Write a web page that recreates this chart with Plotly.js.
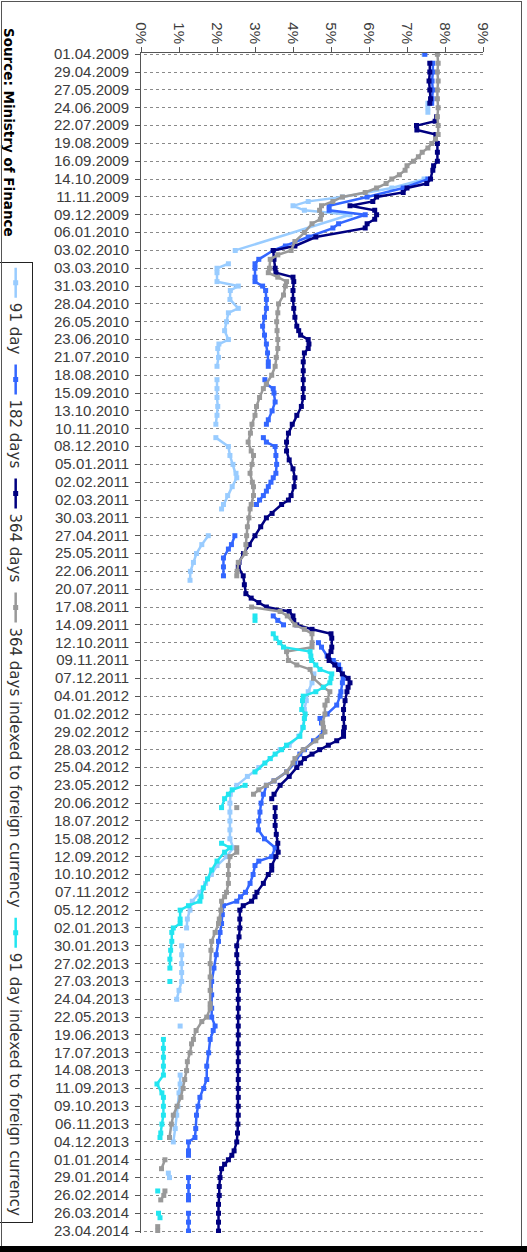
<!DOCTYPE html>
<html>
<head>
<meta charset="utf-8">
<script src="https://cdn.plot.ly/plotly-3.0.1.min.js"></script>
<style>
html,body{margin:0;padding:0;background:#fff;overflow:hidden;}
#page{position:relative;width:527px;height:1252px;overflow:hidden;background:#fff;}
#chart{position:absolute;left:0;top:0;width:1252px;height:527px;transform-origin:0 0;transform:translate(527px,0) rotate(90deg);}
#frame{position:absolute;left:1px;top:1px;width:519px;height:1245px;border:1px solid #555;border-bottom:none;pointer-events:none;}
#bar{position:absolute;left:0;top:1246px;width:527px;height:6px;background:#000;}
</style>
</head>
<body>
<div id="page">
  <div id="chart"></div>
  <div id="frame"></div>
  <div id="bar"></div>
</div>
<script>
// ---- tick labels (every 4 weeks) ----
const tickLabels = ['01.04.2009','29.04.2009','27.05.2009','24.06.2009','22.07.2009','19.08.2009','16.09.2009','14.10.2009','11.11.2009','09.12.2009','06.01.2010','03.02.2010','03.03.2010','31.03.2010','28.04.2010','26.05.2010','23.06.2010','21.07.2010','18.08.2010','15.09.2010','13.10.2010','10.11.2010','08.12.2010','05.01.2011','02.02.2011','02.03.2011','30.03.2011','27.04.2011','25.05.2011','22.06.2011','20.07.2011','17.08.2011','14.09.2011','12.10.2011','09.11.2011','07.12.2011','04.01.2012','01.02.2012','29.02.2012','28.03.2012','25.04.2012','23.05.2012','20.06.2012','18.07.2012','15.08.2012','12.09.2012','10.10.2012','07.11.2012','05.12.2012','02.01.2013','30.01.2013','27.02.2013','27.03.2013','24.04.2013','22.05.2013','19.06.2013','17.07.2013','14.08.2013','11.09.2013','09.10.2013','06.11.2013','04.12.2013','01.01.2014','29.01.2014','26.02.2014','26.03.2014','23.04.2014'];
const pctVals = [0,1,2,3,4,5,6,7,8,9];
const pctLabels = ['0%','1%','2%','3%','4%','5%','6%','7%','8%','9%'];

// ---- series: weeks after 01.04.2009 (weekly auctions) and yields in % (null = no auction) ----
const wk91 = [0,1,11,12,13,14,28,30,32,33,34,35,36,44,45,47,48,49,51,52,53,55,57,58,60,62,64,65,66,68,70,71,73,75,77,79,81,83,84,86,88,90,92,94,95,97,99,101,102,103,108,110,112,114,116,118,119,139,141,143,145,147,149,151,153,155,156,158,160,162,164,166,168,170,172,174,176,178,180,182,184,186,188,190,192,194,196,197,200,202,204,206,208,210,212,213,218,219,229,231,233,236,238,241,244,245,251,252];
const r91  = [7.45,null,7.55,7.55,7.55,null,7.45,6.6,5.3,4.4,4.0,4.3,5.5,2.48,null,2.3,2.0,2.0,2.0,2.56,2.35,2.34,2.56,2.3,2.25,2.2,2.3,2.05,2.02,2.04,2.0,null,2.0,2.0,2.0,2.02,2.0,1.97,null,1.97,2.3,2.34,2.42,2.5,2.52,2.4,2.28,2.17,2.12,null,1.77,1.6,1.46,1.38,1.3,1.29,null,4.55,4.5,4.4,4.35,4.3,4.3,4.25,4.15,3.9,3.66,3.4,3.1,2.8,2.52,2.35,2.34,2.34,2.34,2.34,2.34,2.43,2.25,2.0,1.85,1.7,1.55,1.35,1.29,1.22,1.2,null,1.07,1.07,1.07,1.07,1.07,1.0,0.94,null,1.03,null,1.03,1.03,1.0,0.97,0.94,0.9,0.85,null,0.72,0.75];

const wk182 = [0,1,2,4,6,8,10,11,12,28,30,32,34,35,36,38,39,41,43,44,46,47,48,50,51,52,53,55,57,59,61,63,65,67,69,70,71,73,74,75,76,78,80,82,83,84,86,87,88,90,92,94,95,96,97,98,99,100,101,102,108,110,111,113,115,117,118,126,127,128,129,132,133,135,136,137,138,140,141,143,144,146,148,149,150,152,154,156,157,159,161,163,164,166,168,170,172,174,176,178,180,181,182,184,186,188,189,190,191,193,195,197,199,202,205,208,211,214,216,218,219,221,224,227,230,232,234,236,238,241,243,244,246,247,248,252,254,256,257,258,260,262,264];
const r182  = [7.47,null,7.68,7.68,7.66,7.68,7.66,7.65,null,7.55,6.9,5.95,4.95,4.95,5.9,5.2,5.05,4.4,3.8,3.48,3.1,3.0,3.0,3.0,3.0,3.2,3.28,3.3,3.3,3.25,3.2,3.25,3.3,3.33,3.35,3.35,null,3.26,3.3,3.48,3.5,3.53,3.45,3.35,3.3,null,3.22,3.3,3.53,3.55,3.57,3.55,3.48,3.42,3.35,3.3,3.22,3.12,3.04,null,2.47,2.38,2.3,2.17,2.17,2.17,null,3.48,3.6,3.75,null,4.67,4.75,4.9,5.06,5.2,5.24,5.32,5.3,5.26,5.24,5.15,4.9,4.71,4.75,4.8,4.54,4.3,4.18,4.05,3.83,3.5,3.3,3.22,3.16,3.13,3.1,3.09,3.25,3.53,3.44,3.1,3.0,2.95,2.87,2.75,2.62,2.52,2.17,2.14,2.12,2.08,2.04,1.98,1.92,1.86,1.86,1.86,1.86,1.95,1.9,1.82,1.78,1.73,1.73,1.65,1.55,1.5,1.46,1.44,1.42,1.25,1.25,1.25,null,1.25,1.25,1.25,1.25,null,1.25,1.25,1.25];

const wk364 = [2,4,6,8,10,11,12,14,15,16,17,18,20,22,24,25,26,28,29,30,31,32,33,34,35,36,37,38,39,41,43,44,46,48,49,50,51,53,55,57,59,61,62,63,64,65,66,67,69,71,73,75,77,79,81,83,85,87,89,91,93,95,97,99,100,101,103,104,106,108,110,112,114,115,117,119,121,122,123,124,125,126,127,128,129,130,131,133,134,135,136,137,138,139,140,141,142,143,145,147,149,151,152,153,154,155,156,157,158,159,160,162,164,166,167,168,169,171,173,175,177,179,180,182,183,184,186,188,189,190,191,192,194,196,198,200,202,204,206,208,210,212,214,216,218,220,222,224,226,228,230,232,234,236,238,240,242,244,246,247,248,249,250,252,254,256,258,260,262,264];
const r364  = [7.6,7.6,7.58,7.6,7.62,7.6,null,7.78,7.74,7.25,7.26,7.76,7.8,7.8,7.8,7.7,7.68,7.62,7.52,7.0,6.9,6.2,6.1,5.5,6.15,6.2,6.15,5.95,5.9,4.6,4.05,3.48,3.5,3.53,3.55,4.0,4.02,4.0,4.0,4.02,4.05,4.1,4.15,4.2,4.4,4.42,4.4,4.3,4.27,4.27,4.27,4.27,4.27,4.22,4.1,3.98,3.88,3.83,3.83,3.9,4.0,4.05,4.03,3.95,3.88,3.7,3.45,3.3,3.15,3.0,2.85,2.7,2.58,2.56,2.69,2.72,2.76,2.9,3.1,3.3,3.9,4.0,4.02,4.1,4.5,5.0,5.02,5.02,5.0,4.93,4.95,5.1,5.2,5.3,5.45,5.5,5.45,5.42,5.37,5.33,5.33,5.35,5.33,5.33,5.15,4.93,4.7,4.5,4.3,4.2,4.1,3.9,3.66,3.5,3.44,null,3.53,3.53,3.53,3.56,3.6,3.61,3.55,3.44,3.44,3.35,3.22,3.05,3.0,2.91,2.69,2.6,2.6,2.6,2.58,2.52,2.52,2.55,2.56,2.56,2.56,2.56,2.56,2.56,2.56,2.56,2.56,2.56,2.56,2.56,2.56,2.56,2.56,2.56,2.56,2.55,2.54,2.52,2.45,2.39,2.3,2.2,2.12,2.08,2.06,2.06,2.04,2.04,2.04,2.04];

const wkFx364 = [0,2,4,6,8,10,12,14,16,18,19,20,21,22,23,24,25,26,27,28,29,30,31,32,33,34,35,36,37,38,40,42,44,45,46,48,49,50,51,52,54,56,58,60,62,64,66,68,70,72,74,75,77,79,81,83,85,87,89,90,92,94,96,97,99,101,102,104,106,108,110,112,114,116,117,118,124,125,126,128,129,130,132,133,134,136,137,138,140,142,143,145,146,148,150,151,152,153,154,156,158,159,161,163,164,165,166,167,169,170,178,179,180,182,184,186,188,189,190,192,194,195,197,199,201,204,207,210,213,214,216,217,219,221,222,224,226,228,230,232,234,236,238,240,243,244,248,250,251,255,256,257,258,263,264];
const rFx364  = [7.8,7.82,7.8,7.82,7.8,7.8,7.82,7.8,7.82,7.82,7.75,7.65,7.55,7.4,7.3,7.17,7.0,6.95,6.8,6.6,6.45,6.2,5.9,5.3,5.05,4.75,4.7,4.75,4.72,4.5,4.3,4.05,3.95,3.6,3.4,3.38,3.35,3.6,3.83,3.8,3.75,3.62,3.6,3.57,3.58,3.6,3.6,3.56,3.53,3.44,3.3,3.22,3.12,3.04,3.0,2.92,2.88,2.82,2.9,2.96,2.92,2.87,2.93,2.96,2.96,2.9,2.87,2.84,2.8,2.78,2.76,2.74,2.56,2.53,2.52,null,2.91,3.66,3.85,4.05,4.3,4.5,4.5,4.5,3.83,3.88,4.1,4.45,4.54,4.8,4.97,4.9,4.84,4.84,4.78,4.8,4.84,4.75,4.6,4.27,4.05,4.0,3.83,3.5,3.3,3.1,2.96,null,2.52,null,2.52,2.52,2.34,2.3,2.3,2.3,2.25,2.2,2.12,2.1,2.06,2.04,1.95,1.86,1.84,1.82,1.82,1.82,1.82,1.82,1.73,1.6,1.45,1.38,1.33,1.29,1.22,1.2,1.15,1.11,1.05,0.95,0.85,0.8,0.75,null,0.63,0.54,null,0.63,0.6,0.52,null,0.44,0.44];

const wkFx91 = [126,127,128,130,131,132,133,134,135,136,137,138,139,140,141,142,143,144,145,147,148,149,151,153,155,156,157,158,159,161,162,164,165,166,167,169,170,177,178,179,181,183,185,187,189,190,191,192,194,195,196,197,199,201,203,205,206,208,209,221,223,225,227,229,231,233,234,236,238,240,242,243,244,255,256,260,261];
const rFx91  = [3.0,3.0,null,3.48,3.55,3.65,3.75,4.45,4.47,4.49,4.6,4.71,5.02,5.0,4.97,4.8,4.6,4.27,4.25,4.23,4.32,4.3,4.27,4.18,3.83,3.7,3.53,3.4,3.26,3.0,null,2.74,2.4,2.3,2.2,2.12,null,2.12,2.34,2.2,2.0,1.86,1.75,1.64,1.58,1.55,1.25,1.03,1.03,1.03,0.85,0.81,0.81,0.78,0.76,0.76,null,0.76,null,0.59,0.59,0.59,0.59,0.59,0.42,0.55,0.59,0.59,0.59,0.55,0.52,0.5,null,0.44,null,0.46,0.5];

const seriesNames = ['91 day','182 days','364 days','364 days indexed to foreign currency','91 day indexed to foreign currency'];
const seriesColors = ['#99CCFF','#3366FF','#000080','#999999','#22E5F0'];

// ---- helpers ----
const T0 = Date.UTC(2009, 3, 1);
const MS_WEEK = 7 * 86400000;
function weekDates(ws){ return ws.map(w => new Date(T0 + w * MS_WEEK).toISOString().slice(0,10)); }
function toISO(lbl){ const p = lbl.split('.'); return p[2] + '-' + p[1] + '-' + p[0]; }

const weekSets = [wk91, wk182, wk364, wkFx364, wkFx91];
const rateSets = [r91, r182, r364, rFx364, rFx91];

const traces = seriesNames.map((name, i) => ({
  type: 'scatter',
  mode: 'lines+markers',
  name: name,
  x: weekDates(weekSets[i]),
  y: rateSets[i],
  connectgaps: false,
  line: {color: seriesColors[i], width: 2.5},
  marker: {color: seriesColors[i], symbol: 'square', size: 5}
}));

const axisFont = {family: 'Liberation Sans, Arial, sans-serif', size: 15, color: '#3c3c3c'};

const layout = {
  width: 1252, height: 527,
  margin: {l: 53, r: 19, t: 44, b: 141, pad: 0, autoexpand: false},
  paper_bgcolor: '#ffffff', plot_bgcolor: '#ffffff',
  showlegend: true,
  xaxis: {
    type: 'date',
    range: ['2009-03-30', '2014-04-26'],
    tickmode: 'array',
    tickvals: tickLabels.map(toISO),
    ticktext: tickLabels,
    tickangle: -90,
    ticks: 'outside', ticklen: 5, tickcolor: '#555', tickwidth: 1,
    showline: true, linecolor: '#555', linewidth: 1,
    showgrid: true, gridcolor: '#8a8a8a', gridwidth: 1, griddash: 'dot',
    zeroline: false,
    tickfont: axisFont,
    fixedrange: true
  },
  yaxis: {
    range: [0, 9],
    tickmode: 'array',
    tickvals: pctVals,
    ticktext: pctLabels,
    ticks: 'outside', ticklen: 5, tickcolor: '#555', tickwidth: 1,
    showline: true, linecolor: '#555', linewidth: 1,
    showgrid: false, zeroline: false,
    tickfont: {family: 'Liberation Sans, Arial, sans-serif', size: 15, color: '#3c3c3c'},
    fixedrange: true
  },
  legend: {
    orientation: 'h',
    x: 0.177, y: -0.316, xanchor: 'left', yanchor: 'top',
    bordercolor: '#222', borderwidth: 1, bgcolor: '#ffffff',
    font: {family: 'DejaVu Sans, Verdana, sans-serif', size: 15, color: '#333'},
    traceorder: 'normal'
  },
  annotations: [{
    text: '<b>Source: Ministry of Finance</b>',
    xref: 'paper', yref: 'paper',
    x: -0.023, y: -0.386, xanchor: 'left', yanchor: 'middle',
    showarrow: false,
    font: {family: 'DejaVu Sans, Verdana, sans-serif', size: 13.5, color: '#000'}
  }]
};

Plotly.newPlot('chart', traces, layout, {displayModeBar: false, staticPlot: true});
</script>
</body>
</html>
